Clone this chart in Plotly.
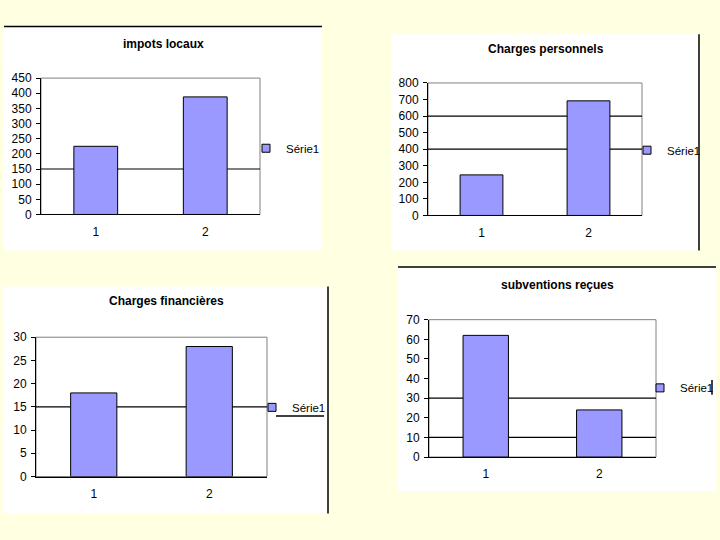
import plotly.graph_objects as go

categories = ["1", "2"]
impots_locaux = [225, 388]
charges_personnels = [245, 692]
charges_financieres = [18, 28]
subventions_recues = [62, 24]

titles = ["impots locaux", "Charges personnels", "Charges financières", "subventions reçues"]
series_name = "Série1"

W, H = 720, 540

def px(x):
    return x / W

def py(y):
    return 1 - y / H

BAR = "#9999FF"
PLOT_BG = "#C0C0C0"
PAGE_BG = "#FFFFE1"
FONT = "Liberation Sans, Arial, sans-serif"

panels = [
    dict(data=impots_locaux, ymax=450, dtick=50, grid=[150],
         plot=(41, 260, 73, 213), box=(4, 322, 20, 250), title=(163, 38), legend=(284, 145)),
    dict(data=charges_personnels, ymax=800, dtick=100, grid=[400, 600],
         plot=(428, 642, 78, 214), box=(391, 699, 28, 250), title=(546, 43), legend=(665, 147)),
    dict(data=charges_financieres, ymax=30, dtick=5, grid=[15],
         plot=(36, 267, 339, 482), box=(4, 327, 287, 520), title=(166, 302), legend=(290, 411)),
    dict(data=subventions_recues, ymax=70, dtick=10, grid=[10, 30],
         plot=(429, 656, 321, 462), box=(398, 716, 267, 497), title=(557, 285), legend=(678, 391)),
]

LEGEND_TEXT_OFFSET = 38  # distance from legend x to start of its text

fig = go.Figure()
shapes = []
annotations = []
layout = {}

for i, p in enumerate(panels):
    n = i + 1
    xa = "x" if n == 1 else f"x{n}"
    ya = "y" if n == 1 else f"y{n}"
    leg = "legend" if n == 1 else f"legend{n}"
    x0, x1, y0, y1 = p["plot"]
    bx0, bx1, by0, by1 = p["box"]

    shapes.append(dict(type="rect", xref="paper", yref="paper",
                       x0=px(bx0), x1=px(bx1), y0=py(by1), y1=py(by0),
                       fillcolor="white", line=dict(width=0), layer="below"))

    fig.add_trace(go.Bar(
        x=categories, y=p["data"], name=series_name,
        xaxis=xa, yaxis=ya, legend=leg, width=0.4, legendgroup=f"s{n}",
        marker=dict(color=BAR, line=dict(color="black", width=1)),
        showlegend=False,
    ))
    # legend entry with a small square key, like the Excel legend
    fig.add_trace(go.Scatter(
        x=[None], y=[None], mode="markers", name=series_name,
        xaxis=xa, yaxis=ya, legend=leg, legendgroup=f"s{n}",
        marker=dict(symbol="square", size=8, color=BAR, line=dict(color="black", width=1)),
        showlegend=True, hoverinfo="skip",
    ))

    xkey = "xaxis" if n == 1 else f"xaxis{n}"
    ykey = "yaxis" if n == 1 else f"yaxis{n}"
    layout[xkey] = dict(domain=[px(x0), px(x1)], anchor=ya, range=[-0.5, 1.5],
                        type="category", showgrid=False, zeroline=False,
                        showline=True, linecolor="black", linewidth=1,
                        ticks="", tickfont=dict(size=12, color="black", family=FONT),
                        ticklabelstandoff=6, fixedrange=True)
    layout[ykey] = dict(domain=[py(y1), py(y0)], anchor=xa, range=[0, p["ymax"]],
                        dtick=p["dtick"], showgrid=False, zeroline=False,
                        showline=True, linecolor="black", linewidth=1,
                        ticks="outside", ticklen=4, tickcolor="black",
                        tickfont=dict(size=12, color="black", family=FONT),
                        ticklabelstandoff=2, fixedrange=True)

    shapes.append(dict(type="rect", xref=f"{xa} domain", yref=f"{ya} domain",
                       x0=0, x1=1, y0=0, y1=1, line=dict(color="#808080", width=1),
                       fillcolor="rgba(0,0,0,0)", layer="below"))
    for g in p["grid"]:
        shapes.append(dict(type="line", xref=f"{xa} domain", yref=ya,
                           x0=0, x1=1, y0=g, y1=g, line=dict(color="black", width=1.2),
                           layer="below"))

    tx, ty = p["title"]
    annotations.append(dict(text=f"<b>{titles[i]}</b>", xref="paper", yref="paper",
                            x=px(tx), y=py(ty), showarrow=False, xanchor="center",
                            yanchor="middle", font=dict(size=12, color="black", family=FONT)))

    lx, ly = p["legend"]
    layout[leg] = dict(x=px(lx - LEGEND_TEXT_OFFSET), y=py(ly), xanchor="left", yanchor="middle",
                       bgcolor="rgba(0,0,0,0)", borderwidth=0,
                       font=dict(size=11.5, color="black", family=FONT),
                       itemwidth=30, tracegroupgap=0)

lines = [
    (4, 20, 322, 20),
    (699, 28, 699, 250),
    (328, 287, 328, 520),
    (276, 420, 324, 420),
    (398, 267, 716, 267),
    (712, 383, 712, 398),
]
for (a, b, c, d) in lines:
    shapes.append(dict(type="line", xref="paper", yref="paper",
                       x0=px(a), y0=py(b), x1=px(c), y1=py(d),
                       line=dict(color="black", width=1.5)))

fig.update_layout(
    width=W, height=H,
    margin=dict(l=0, r=0, t=0, b=0),
    paper_bgcolor=PAGE_BG,
    plot_bgcolor=PLOT_BG,
    shapes=shapes,
    annotations=annotations,
    font=dict(family=FONT, color="black"),
    **layout,
)

fig.write_html(
    "out.html",
    config={"displayModeBar": False},
    post_script="document.body.style.margin='0';document.body.style.background='%s';" % PAGE_BG,
)
